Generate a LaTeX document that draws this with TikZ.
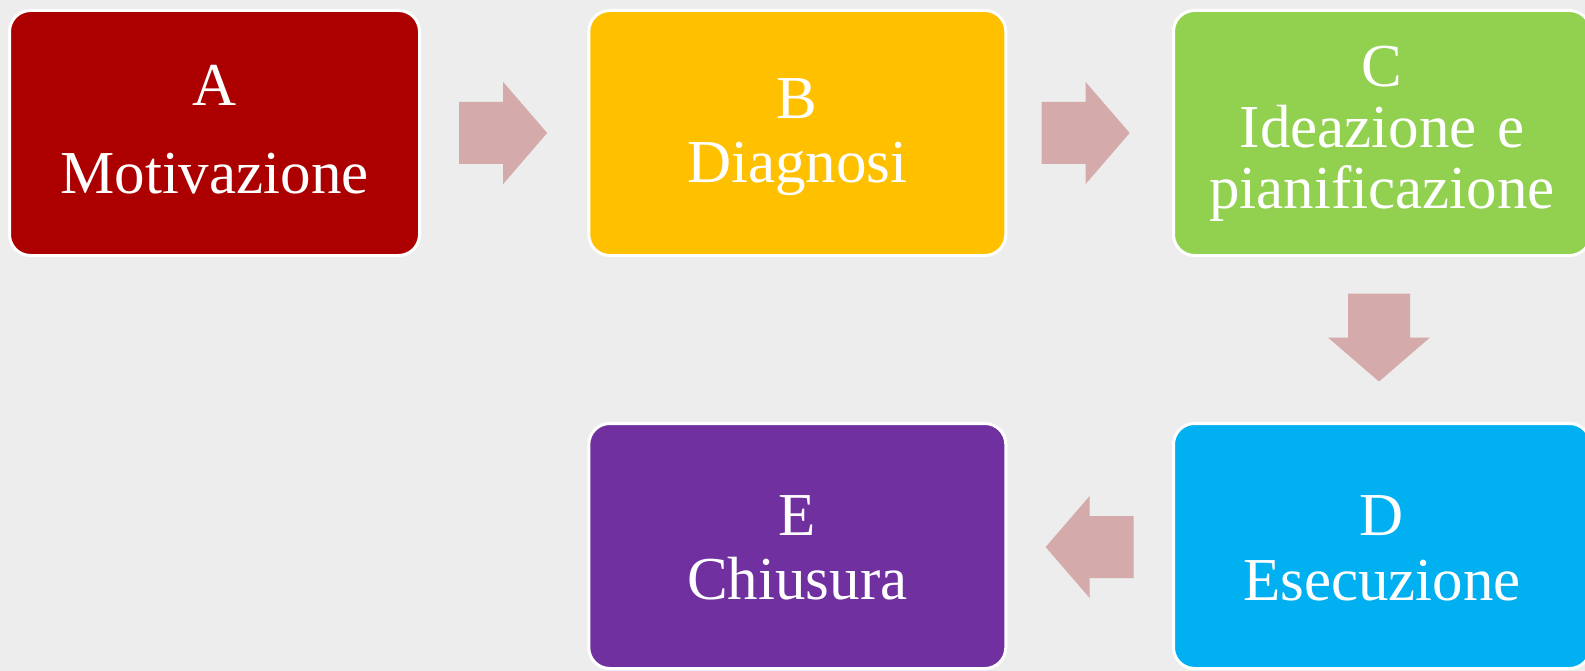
\documentclass[tikz,border=0pt]{standalone}
\usepackage{fontspec}
\setmainfont{Liberation Serif}
\usetikzlibrary{calc}
\definecolor{bg}{HTML}{EDEDED}
\definecolor{cA}{HTML}{AC0000}
\definecolor{cB}{HTML}{FFC000}
\definecolor{cC}{HTML}{92D050}
\definecolor{cD}{HTML}{00B0F0}
\definecolor{cE}{HTML}{7030A0}
\definecolor{arrowc}{RGB}{212,170,170}
\begin{document}
\begin{tikzpicture}[x=1pt,y=-1pt,
  stage/.style={rectangle, rounded corners=21pt, draw=white, line width=3pt,
    text=white, inner sep=0pt, outer sep=0pt, minimum height=245pt,
    minimum width=417pt, text width=400pt, align=center, text height=0pt},
  barrow/.pic={\fill[arrowc] (-44,-31) -- (0,-31) -- (0,-51) -- (44,0) -- (0,51) -- (0,31) -- (-44,31) -- cycle;}
  ]
\useasboundingbox (0,0) rectangle (1585,671);
\fill[bg] (0,0) rectangle (1585,671);

\node[stage, fill=cA, minimum width=410pt, text depth=54pt,
  font=\fontsize{61}{64.5}\selectfont] (A) at (214.5,133) {A\\[23.5pt]Motivazione};
\node[stage, fill=cB, text depth=29pt,
  font=\fontsize{61}{64.5}\selectfont] (B) at (797.3,133) {B\\Diagnosi};
\node[stage, fill=cC, text depth=92pt,
  font=\fontsize{61}{61}\selectfont] (C) at (1382,133) {C\\Ideazione e\\pianificazione};
\node[stage, fill=cD, text depth=22pt,
  font=\fontsize{61}{65}\selectfont] (D) at (1382,546) {D\\Esecuzione};
\node[stage, fill=cE, text depth=22pt,
  font=\fontsize{61}{64}\selectfont] (E) at (797.3,546) {E\\Chiusura};

\coordinate (m1) at ($(A.east)!0.5!(B.west)$);
\coordinate (m2) at ($(B.east)!0.5!(C.west)$);
\coordinate (m3) at ($(C.south)!0.5!(D.north)$);
\coordinate (m4) at ($(D.west)!0.5!(E.east)$);
\pic at ([xshift=-1pt]m1) {barrow};
\pic at ([xshift=-4pt]m2) {barrow};
\pic[rotate=-90] at ([xshift=-3pt,yshift=2pt]m3) {barrow};
\pic[rotate=180] at ([yshift=-1pt]m4) {barrow};
\end{tikzpicture}
\end{document}
